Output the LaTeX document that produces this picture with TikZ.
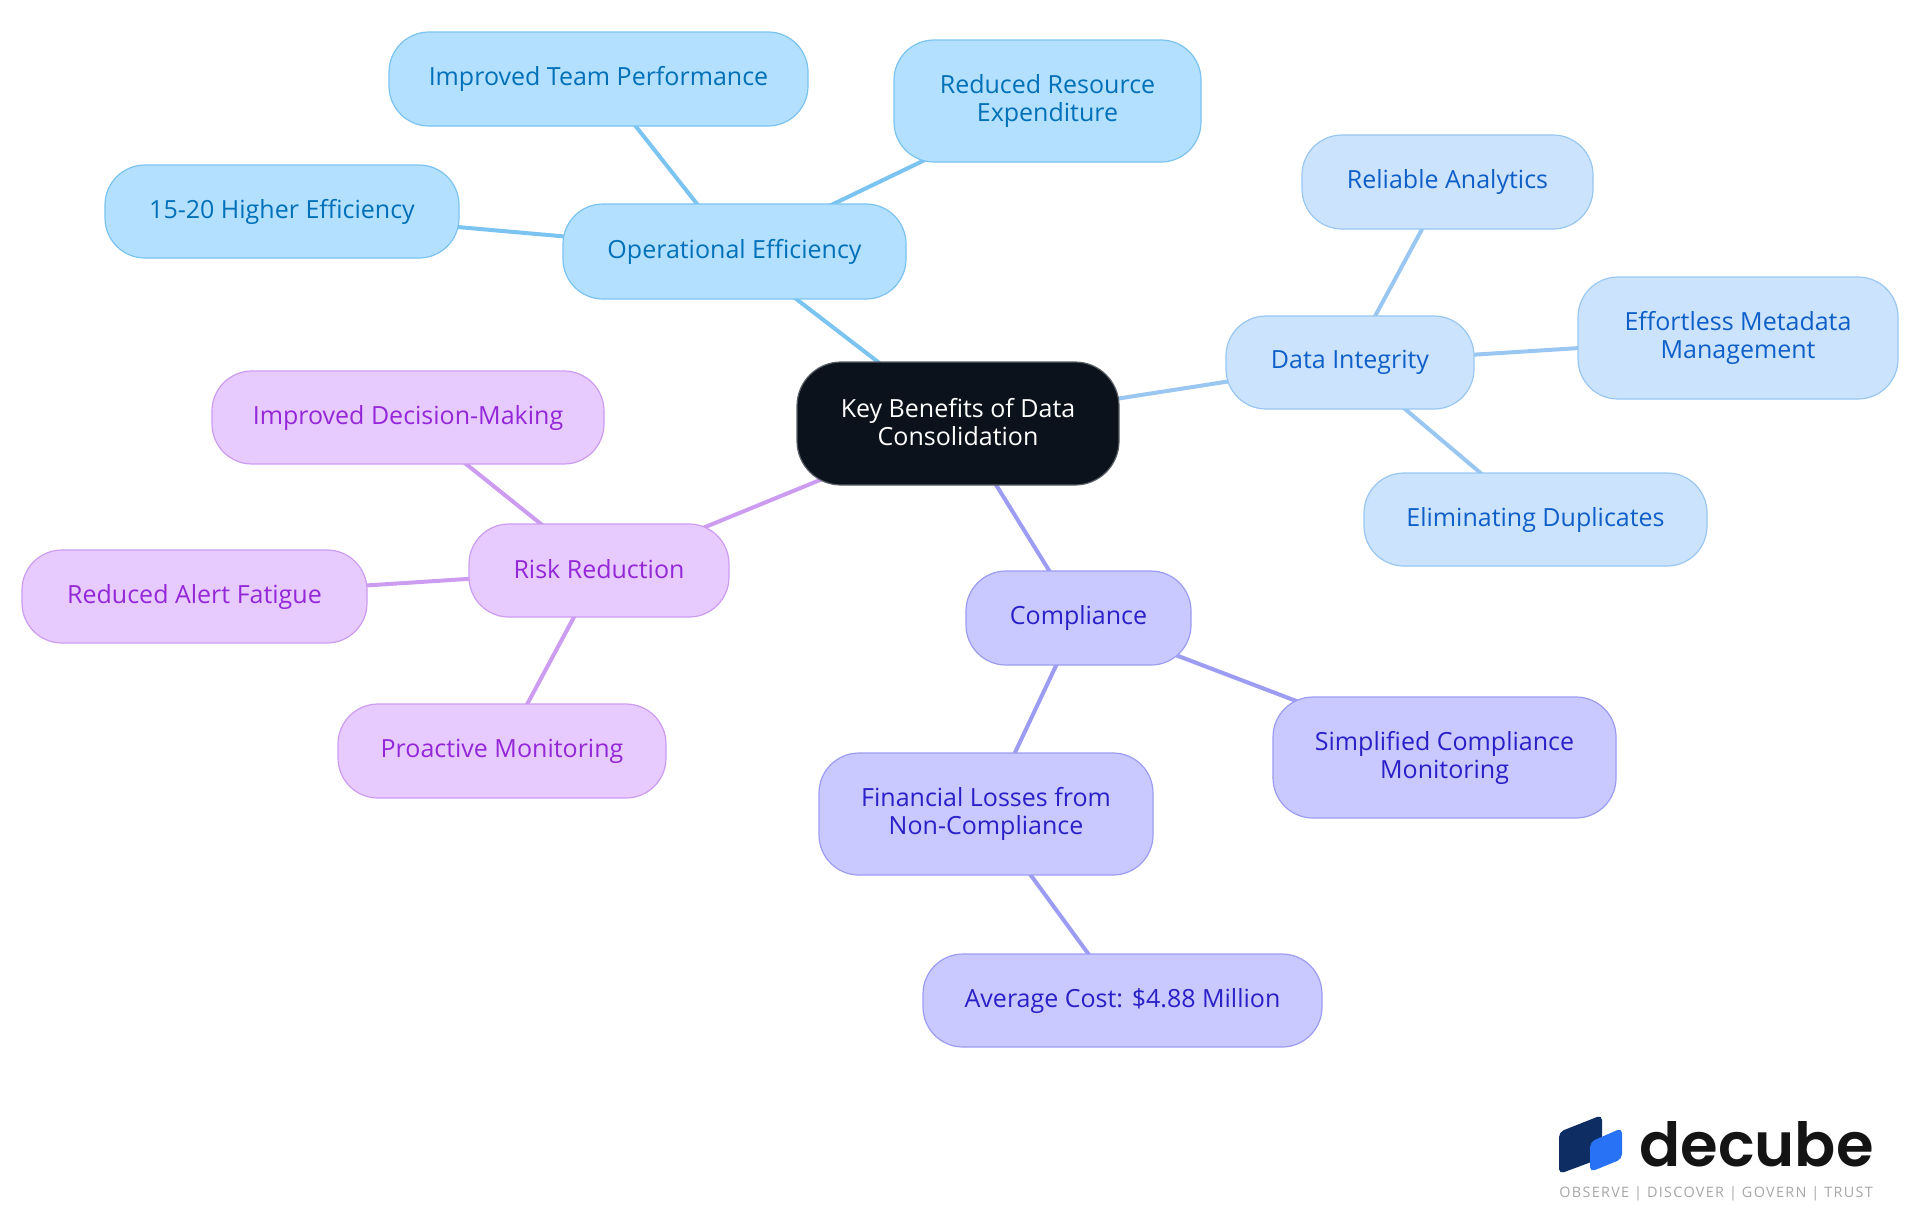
\documentclass[tikz,border=0pt]{standalone}
\usepackage{fontspec}
\setmainfont{Open Sans}
\newfontfamily\logofont{Poppins}[UprightFont=* SemiBold]
\usetikzlibrary{backgrounds}
\definecolor{rootfill}{HTML}{0B121B}
\definecolor{rootline}{HTML}{5A5F66}
\definecolor{afill}{HTML}{B3E0FF}\definecolor{aline}{HTML}{7BC3F0}\definecolor{atext}{HTML}{0070B8}
\definecolor{bfill}{HTML}{CCE3FD}\definecolor{bline}{HTML}{99C7F1}\definecolor{btext}{HTML}{0F5FC8}
\definecolor{cfill}{HTML}{C9C9FF}\definecolor{cline}{HTML}{9C9CF2}\definecolor{ctext}{HTML}{2A20C8}
\definecolor{dfill}{HTML}{E7CBFF}\definecolor{dline}{HTML}{CC9CF0}\definecolor{dtext}{HTML}{9427D8}
\definecolor{logodark}{HTML}{0E2D63}\definecolor{logoblue}{HTML}{2873F5}
\tikzset{
  mm/.style={rectangle,rounded corners=20pt,inner sep=0pt,align=center,line width=0.6pt,
    font=\fontsize{12.5}{14}\selectfont,
    execute at begin node={\rule[-2pt]{0pt}{10.6pt}},
    execute at end node={\rule[-2pt]{0pt}{10.6pt}}},
  rootn/.style={mm,rounded corners=22pt,fill=rootfill,draw=rootline,text=white},
  na/.style={mm,fill=afill,draw=aline,text=atext},
  nb/.style={mm,fill=bfill,draw=bline,text=btext},
  nc/.style={mm,fill=cfill,draw=cline,text=ctext},
  nd/.style={mm,fill=dfill,draw=dline,text=dtext},
  ea/.style={draw=aline,line width=2pt},
  eb/.style={draw=bline,line width=2pt},
  ec/.style={draw=cline,line width=2pt},
  ed/.style={draw=dline,line width=2pt},
}
\begin{document}
\begin{tikzpicture}[x=0.5pt,y=-0.5pt]
\useasboundingbox (0,0) rectangle (1920,1215);
\node[rootn,minimum width=161pt,minimum height=61.5pt] (root) at (958,423.5) {Key Benefits of Data\\Consolidation};
\node[na,minimum width=171.5pt,minimum height=47.5pt] (op) at (734.5,251.5) {Operational Efficiency};
\node[na,minimum width=209.5pt,minimum height=47pt] (team) at (598.5,79) {Improved Team Performance};
\node[na,minimum width=153.5pt,minimum height=61pt] (res) at (1047.5,101) {Reduced Resource\\Expenditure};
\node[na,minimum width=177pt,minimum height=46.5pt] (eff) at (282,211.5) {15-20 Higher Efficiency};
\node[nb,minimum width=124pt,minimum height=46.5pt] (di) at (1350,362.5) {Data Integrity};
\node[nb,minimum width=145.5pt,minimum height=47pt] (rel) at (1447.5,182) {Reliable Analytics};
\node[nb,minimum width=160pt,minimum height=61pt] (meta) at (1738,338) {Effortless Metadata\\Management};
\node[nb,minimum width=171.5pt,minimum height=46.5pt] (dup) at (1535.5,519.5) {Eliminating Duplicates};
\node[nc,minimum width=112.5pt,minimum height=47pt] (comp) at (1078.5,618) {Compliance};
\node[nc,minimum width=171.5pt,minimum height=60.5pt] (simp) at (1444.5,757.5) {Simplified Compliance\\Monitoring};
\node[nc,minimum width=167pt,minimum height=61pt] (fin) at (986,814) {Financial Losses from\\Non-Compliance};
\node[nc,minimum width=199.5pt,minimum height=46.5pt] (avg) at (1122.5,1000.5) {Average Cost: \$4.88 Million};
\node[nd,minimum width=130pt,minimum height=46.5pt] (risk) at (599,570.5) {Risk Reduction};
\node[nd,minimum width=196pt,minimum height=46.5pt] (dec) at (408,417.5) {Improved Decision-Making};
\node[nd,minimum width=172.5pt,minimum height=46.5pt] (alert) at (194.5,596.5) {Reduced Alert Fatigue};
\node[nd,minimum width=164pt,minimum height=47pt] (pro) at (502,751) {Proactive Monitoring};
\begin{scope}[on background layer]
\draw[ea] (root.center) -- (op.center);
\draw[ea] (op.center) -- (team.center);
\draw[ea] (op.center) -- (res.center);
\draw[ea] (op.center) -- (eff.center);
\draw[eb] (root.center) -- (di.center);
\draw[eb] (di.center) -- (rel.center);
\draw[eb] (di.center) -- (meta.center);
\draw[eb] (di.center) -- (dup.center);
\draw[ec] (root.center) -- (comp.center);
\draw[ec] (comp.center) -- (simp.center);
\draw[ec] (comp.center) -- (fin.center);
\draw[ec] (fin.center) -- (avg.center);
\draw[ed] (root.center) -- (risk.center);
\draw[ed] (risk.center) -- (dec.center);
\draw[ed] (risk.center) -- (alert.center);
\draw[ed] (risk.center) -- (pro.center);
\end{scope}
% logo
\fill[logodark,rounded corners=2.5pt] (1559,1132) -- (1602,1115) -- (1602,1158) -- (1559,1174) -- cycle;
\fill[logoblue,rounded corners=2.5pt] (1590,1142) -- (1622,1128) -- (1622,1159) -- (1590,1172) -- cycle;
\node[inner sep=0pt,anchor=base west,font=\logofont\fontsize{30.4}{31}\selectfont,text=black!92] (lg) at (1639,1166) {decube};
\node[inner sep=0pt,anchor=base west,font=\addfontfeature{LetterSpace=9}\fontsize{7.2}{8}\selectfont,text=black!35] (tag) at (1559,1197) {OBSERVE | DISCOVER | GOVERN | TRUST};
\end{tikzpicture}
\end{document}
